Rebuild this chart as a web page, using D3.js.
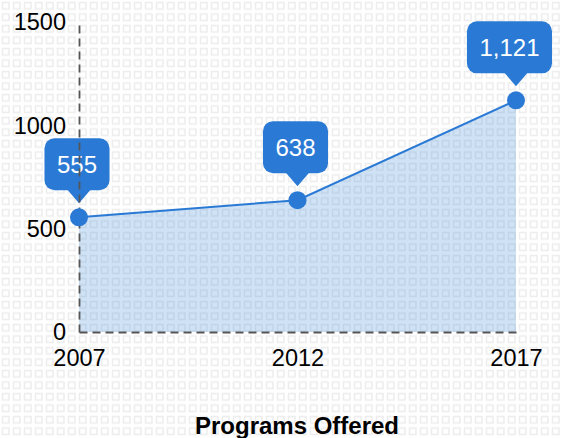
<!DOCTYPE html>
<html><head><meta charset="utf-8">
<script src="https://cdn.jsdelivr.net/npm/d3@7"></script>
<style>html,body{margin:0;padding:0;background:#fff;}svg{display:block;}</style>
</head><body>
<script>
const years = [2007, 2012, 2017];
const programs = [555, 638, 1121];
const yTicks = [0, 500, 1000, 1500];
const xTicks = [2007, 2012, 2017];
const labels = ["555", "638", "1,121"];
const title = "Programs Offered";

const W = 561, H = 438;
const blue = "#2a7ad5";
const font = "'Liberation Sans', Arial, sans-serif";

const svg = d3.select("body").append("svg").attr("width", W).attr("height", H);
const defs = svg.append("defs");
const pat = defs.append("pattern").attr("id", "bg").attr("patternUnits", "userSpaceOnUse")
  .attr("width", 11).attr("height", 11.5);
pat.append("rect").attr("width", 11).attr("height", 11.5).attr("fill", "#fff");
pat.append("rect").attr("x", 2.5).attr("y", 2.5).attr("width", 6.5).attr("height", 6.5)
  .attr("fill", "none").attr("stroke", "#ededed").attr("stroke-width", 1.5);
svg.append("rect").attr("width", W).attr("height", H).attr("fill", "url(#bg)");

const x = d3.scaleLinear().domain([2007, 2017]).range([79, 516]);
const y = d3.scaleLinear().domain([0, 1500]).range([332, 22]);
const data = years.map((yr, i) => ({yr, v: programs[i], label: labels[i]}));

// area
svg.append("path").datum(data)
  .attr("d", d3.area().x(d => x(d.yr)).y0(y(0)).y1(d => y(d.v)))
  .attr("fill", blue).attr("fill-opacity", 0.22);
svg.append("path").datum(data)
  .attr("d", d3.line().x(d => x(d.yr)).y(d => y(d.v)))
  .attr("fill", "none").attr("stroke", blue).attr("stroke-width", 2);

// tooltips
const tipG = svg.append("g");
data.forEach(d => {
  const px = x(d.yr), py = y(d.v);
  const g = tipG.append("g");
  const t = g.append("text").text(d.label)
    .attr("font-family", font).attr("font-size", 24).attr("fill", "#fff")
    .attr("text-anchor", "middle");
  const tw = t.node().getComputedTextLength();
  const rw = tw + 25, rh = 52;
  let cx = px - 2;
  if (cx + rw / 2 > 552) cx = 552 - rw / 2;
  const bottom = py - 27, top = bottom - rh, tip = py - 14;
  g.insert("rect", "text").attr("x", cx - rw / 2).attr("y", top).attr("width", rw).attr("height", rh)
    .attr("rx", 10).attr("fill", blue);
  g.insert("path", "text").attr("d", `M${px - 12},${bottom - 1} L${px},${tip} L${px + 12},${bottom - 1} Z`).attr("fill", blue);
  t.attr("x", cx).attr("y", top + rh / 2 + 8.5);
});

// axes
const yAxis = svg.append("g").attr("transform", `translate(${x(2007)},0)`)
  .call(d3.axisLeft(y).tickValues(yTicks).tickSize(0).tickPadding(13).tickFormat(d3.format("d")));
const xAxis = svg.append("g").attr("transform", `translate(0,${y(0)})`)
  .call(d3.axisBottom(x).tickValues(xTicks).tickSize(0).tickPadding(17).tickFormat(d3.format("d")));
[yAxis, xAxis].forEach(a => {
  a.select(".domain").attr("stroke", "#555").attr("stroke-width", 1.8).attr("stroke-dasharray", "8,5");
  a.selectAll("text").attr("font-family", font).attr("font-size", 23.5).attr("fill", "#000");
});
yAxis.selectAll("text").attr("dy", "0.33em");
xAxis.selectAll("text").attr("dy", "0.71em");

// points
svg.append("g").selectAll("circle").data(data).join("circle")
  .attr("cx", d => x(d.yr)).attr("cy", d => y(d.v)).attr("r", 9).attr("fill", blue);

svg.append("text").text(title).attr("x", 297).attr("y", 434)
  .attr("text-anchor", "middle").attr("font-family", font).attr("font-weight", "bold")
  .attr("font-size", 24).attr("fill", "#000");
</script>
</body></html>
